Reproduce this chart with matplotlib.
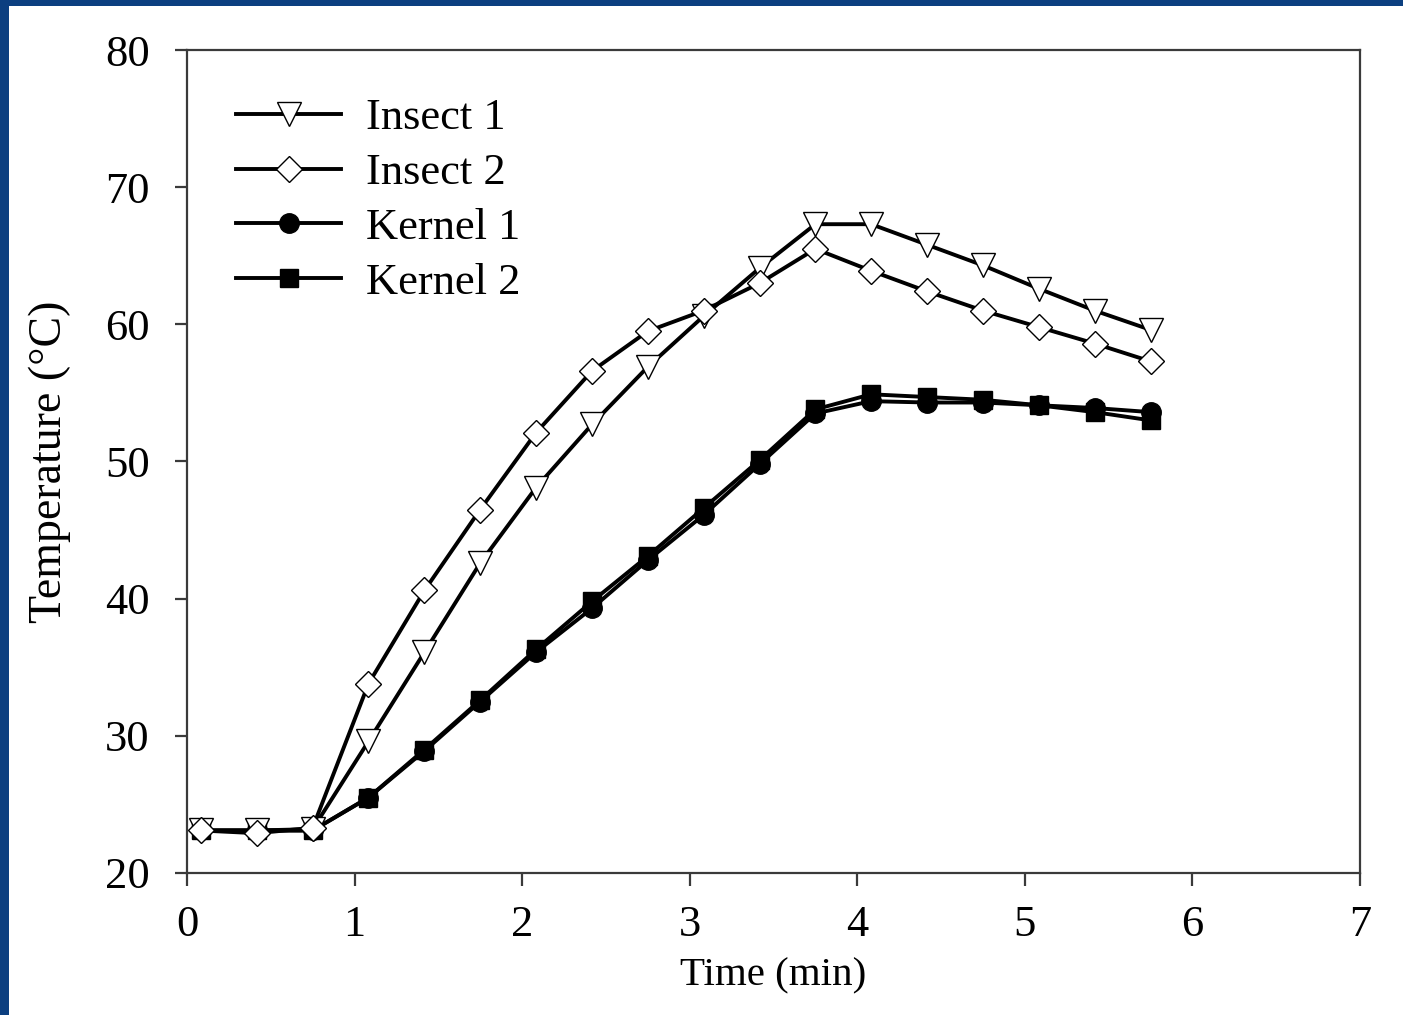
import matplotlib.pyplot as plt
from matplotlib.patches import Rectangle

plt.rcParams['font.family'] = ['Liberation Serif', 'DejaVu Serif']

# data
time_min = [0.083, 0.417, 0.75, 1.083, 1.417, 1.75, 2.083, 2.417, 2.75,
            3.083, 3.417, 3.75, 4.083, 4.417, 4.75, 5.083, 5.417, 5.75]
insect1 = [23.1, 23.1, 23.2, 29.6, 36.1, 42.6, 48.1, 52.7, 56.9,
           60.6, 64.1, 67.3, 67.3, 65.8, 64.3, 62.6, 61.0, 59.6]
insect2 = [23.1, 22.9, 23.3, 33.8, 40.6, 46.5, 52.1, 56.6, 59.5,
           61.0, 63.0, 65.5, 63.9, 62.4, 61.0, 59.8, 58.6, 57.3]
kernel1 = [23.1, 23.1, 23.1, 25.5, 28.9, 32.5, 36.1, 39.3, 42.8,
           46.1, 49.8, 53.5, 54.4, 54.3, 54.3, 54.1, 53.9, 53.6]
kernel2 = [23.1, 23.1, 23.1, 25.5, 29.0, 32.6, 36.3, 39.8, 43.1,
           46.6, 50.1, 53.8, 54.9, 54.7, 54.5, 54.1, 53.6, 53.0]

fig = plt.figure(figsize=(14.03, 10.15), dpi=100, facecolor='#0c3f80')
# white slide panel over the blue background
fig.add_artist(Rectangle((9 / 1403, 0), 1, (1015 - 6) / 1015,
                         transform=fig.transFigure, facecolor='white',
                         edgecolor='none', zorder=-5))

ax = fig.add_axes([187 / 1403, 142 / 1015, 1173 / 1403, 823 / 1015])
ax.set_facecolor('white')

lw = 2.8
k1, = ax.plot(time_min, kernel1, color='black', lw=lw, marker='o', ms=14,
              mfc='black', mec='black', label='Kernel 1')
k2, = ax.plot(time_min, kernel2, color='black', lw=lw, marker='s', ms=13,
              mfc='black', mec='black', label='Kernel 2')
i1, = ax.plot(time_min, insect1, color='black', lw=lw, marker='v', ms=17,
              mfc='white', mec='black', mew=1, label='Insect 1')
i2, = ax.plot(time_min, insect2, color='black', lw=lw, marker='D', ms=13,
              mfc='white', mec='black', mew=1, label='Insect 2')

ax.set_xlim(0, 7)
ax.set_ylim(20, 80)
ax.set_xticks(range(0, 8))
ax.set_yticks(range(20, 81, 10))

for side in ['left', 'bottom', 'top', 'right']:
    ax.spines[side].set_color('#3a3a3a')
    ax.spines[side].set_linewidth(1.6)
ax.tick_params(direction='out', length=9, width=1.6, color='#3a3a3a',
               labelsize=32, top=False, right=False)
ax.tick_params(axis='y', pad=18)
ax.tick_params(axis='x', pad=14)

ax.set_xlabel('Time (min)', fontsize=29.5, labelpad=9)
ax.set_ylabel('Temperature (°C)', fontsize=33, labelpad=24)

leg = ax.legend(handles=[i1, i2, k1, k2], loc='upper left',
                bbox_to_anchor=(0.008, 0.99), frameon=False, fontsize=32,
                handlelength=2.36, handletextpad=0.56, labelspacing=0.33)

plt.savefig('out.png', dpi=100, facecolor=fig.get_facecolor())
